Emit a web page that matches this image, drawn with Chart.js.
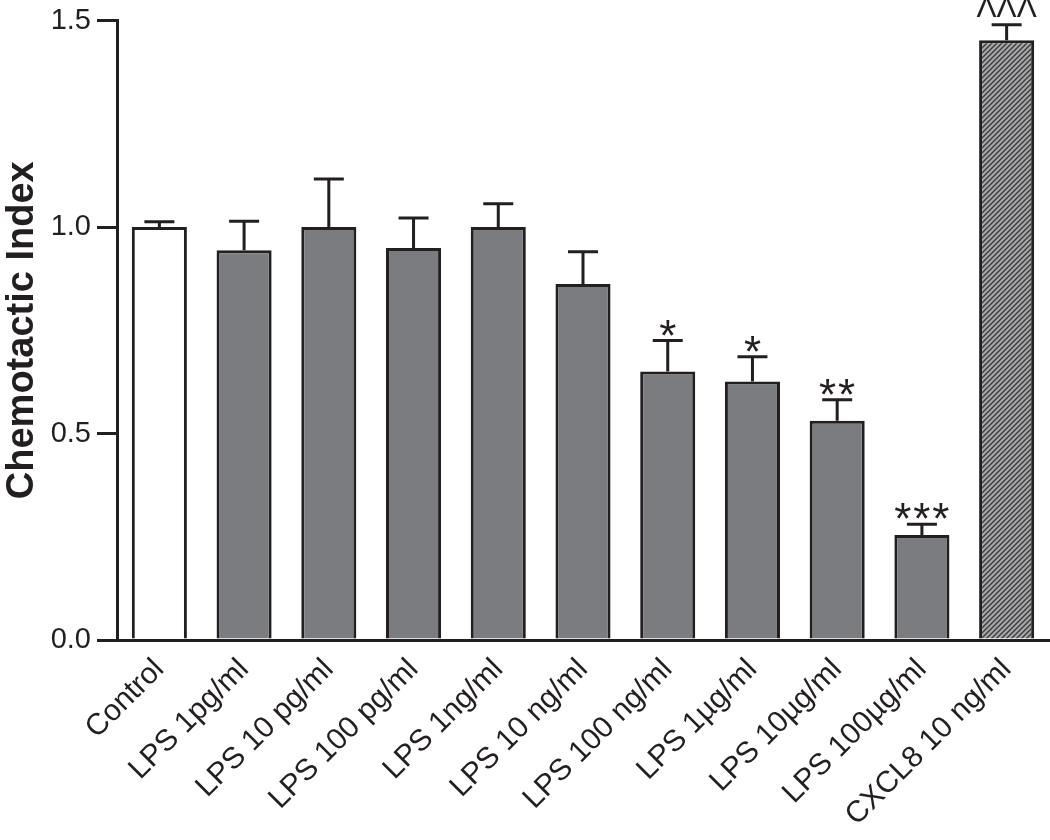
<!DOCTYPE html>
<html>
<head>
<meta charset="utf-8">
<script src="https://cdn.jsdelivr.net/npm/chart.js@4.4.1/dist/chart.umd.min.js"></script>
<style>
  html, body { margin: 0; padding: 0; background: #ffffff; }
  #wrap { width: 1050px; height: 840px; position: relative; }
</style>
</head>
<body>
<div id="wrap"><canvas id="c" width="1050" height="840"></canvas></div>
<script>
const categories = ["Control", "LPS 1pg/ml", "LPS 10 pg/ml", "LPS 100 pg/ml", "LPS 1ng/ml",
  "LPS 10 ng/ml", "LPS 100 ng/ml", "LPS 1\u00b5g/ml", "LPS 10\u00b5g/ml", "LPS 100\u00b5g/ml", "CXCL8 10 ng/ml"];
const meanValues = [1.00, 0.944, 1.00, 0.949, 1.00, 0.862, 0.650, 0.626, 0.531, 0.254, 1.452];
const errorValues = [0.013, 0.070, 0.116, 0.073, 0.056, 0.078, 0.075, 0.060, 0.051, 0.026, 0.038];
const significance = ["", "", "", "", "", "", "*", "*", "**", "***", "\u039b\u039b\u039b"];
const yTicks = [0, 0.5, 1.0, 1.5];

const ink = "#231f20";
const gray = "#7b7c80";
const FAM = "'Liberation Sans', Arial, sans-serif";

function hatch() {
  const p = document.createElement("canvas");
  p.width = 5; p.height = 5;
  const g = p.getContext("2d");
  g.fillStyle = "#a8a8aa";
  g.fillRect(0, 0, 5, 5);
  g.strokeStyle = "#3a3a3c";
  g.lineWidth = 1.4;
  g.beginPath();
  g.moveTo(-1, 6); g.lineTo(6, -1);
  g.moveTo(-1, 1); g.lineTo(1, -1);
  g.moveTo(4, 6); g.lineTo(6, 4);
  g.stroke();
  return g.createPattern(p, "repeat");
}

const fills = categories.map((c, i) => i === 0 ? "#ffffff" : (i === categories.length - 1 ? hatch() : gray));

const errorPlugin = {
  id: "errorBars",
  afterDatasetsDraw(chart) {
    const ctx = chart.ctx;
    const meta = chart.getDatasetMeta(0);
    const ys = chart.scales.y;
    ctx.save();
    ctx.strokeStyle = ink;
    ctx.lineWidth = 3;
    meta.data.forEach((bar, i) => {
      const x = bar.x;
      const yTop = ys.getPixelForValue(meanValues[i]);
      const yErr = ys.getPixelForValue(meanValues[i] + errorValues[i]);
      ctx.beginPath();
      ctx.moveTo(x, yTop);
      ctx.lineTo(x, yErr);
      ctx.moveTo(x - 15, yErr);
      ctx.lineTo(x + 15, yErr);
      ctx.stroke();
      const s = significance[i];
      if (s) {
        ctx.fillStyle = ink;
        ctx.textAlign = "center";
        ctx.textBaseline = "alphabetic";
        if (s.indexOf("*") >= 0) {
          ctx.font = "44px " + FAM;
          const n = s.length, step = 19;
          for (let k = 0; k < n; k++) {
            ctx.fillText("*", x + (k - (n - 1) / 2) * step, yErr + 10);
          }
        } else {
          ctx.font = "30px " + FAM;
          ctx.textBaseline = "bottom";
          ctx.fillText(s, x, yErr - 1);
        }
      }
    });
    ctx.restore();
  }
};

new Chart(document.getElementById("c"), {
  type: "bar",
  data: {
    labels: categories,
    datasets: [{
      data: meanValues,
      backgroundColor: fills,
      borderColor: ink,
      borderWidth: 3,
      borderSkipped: "bottom",
      barPercentage: 0.65,
      categoryPercentage: 1.0
    }]
  },
  options: {
    responsive: false,
    animation: false,
    devicePixelRatio: 1,
    layout: { padding: { top: 19, right: 1, left: 0, bottom: 0 } },
    plugins: { legend: { display: false }, tooltip: { enabled: false } },
    scales: {
      x: {
        grid: { display: false },
        border: { display: true, color: ink, width: 3 },
        ticks: {
          color: ink,
          font: { family: FAM, size: 30 },
          maxRotation: 45, minRotation: 45, autoSkip: false, padding: 4
        },
        afterFit(scale) { scale.height = 200; }
      },
      y: {
        min: 0, max: 1.5,
        afterBuildTicks(scale) { scale.ticks = yTicks.map(v => ({ value: v })); },
        grid: { display: true, drawOnChartArea: false, drawTicks: true, tickLength: 20, color: ink, lineWidth: 3 },
        border: { display: true, color: ink, width: 3 },
        ticks: {
          color: ink,
          font: { family: FAM, size: 29, lineHeight: 1.0 },
          padding: 6,
          callback: (v) => Number(v).toFixed(1)
        },
        title: {
          display: true,
          text: "Chemotactic Index",
          color: ink,
          font: { family: FAM, size: 38, weight: "bold" },
          padding: { top: 0, bottom: 0 }
        },
        afterFit(scale) { scale.width = 117; }
      }
    }
  },
  plugins: [errorPlugin]
});
</script>
</body>
</html>
